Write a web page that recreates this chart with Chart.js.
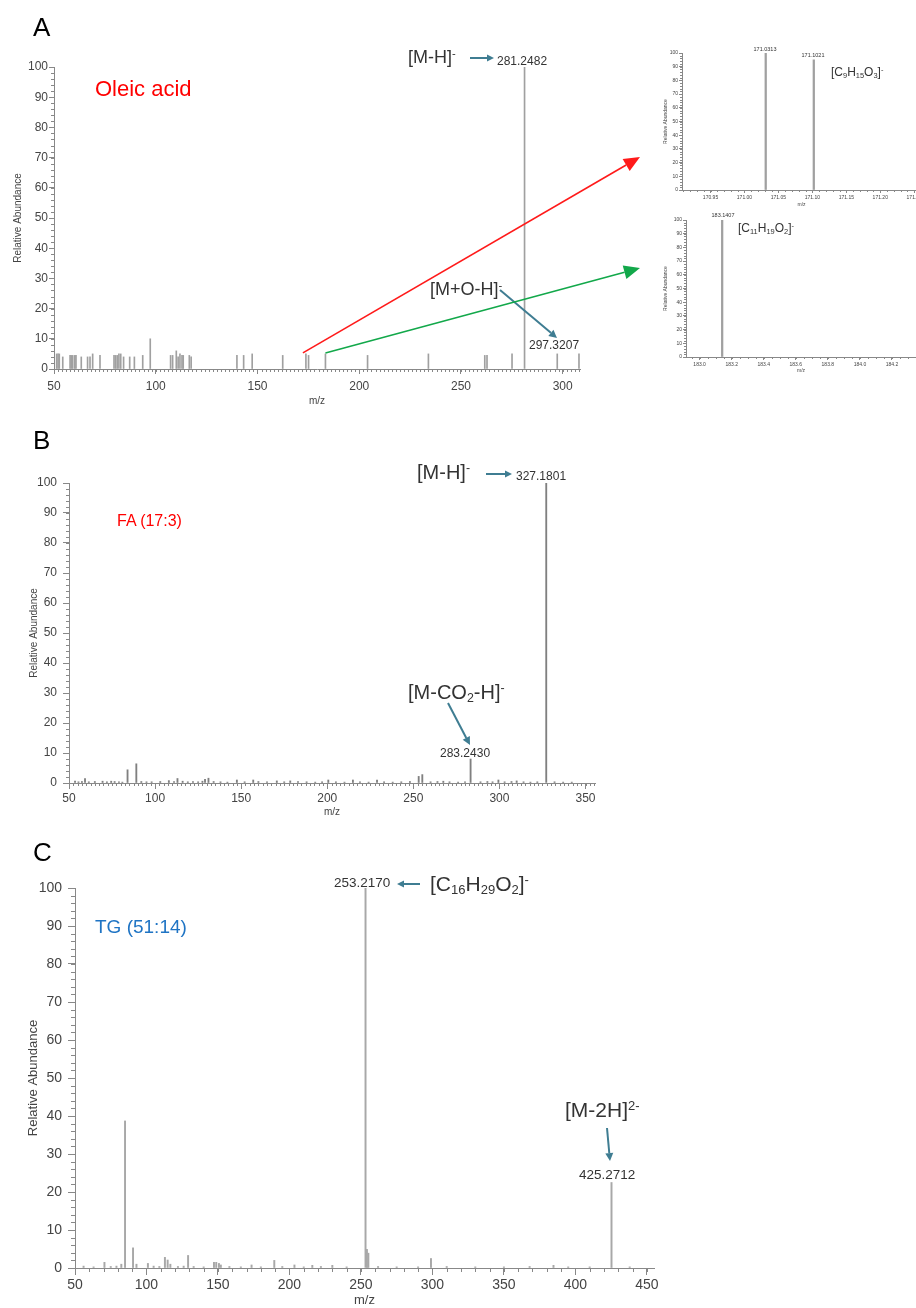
<!DOCTYPE html>
<html>
<head>
<meta charset="utf-8">
<script src="https://cdn.jsdelivr.net/npm/chart.js@4.4.1/dist/chart.umd.min.js"></script>
<style>
html, body { margin: 0; padding: 0; background: #fff; }
body { position: relative; width: 916px; height: 1308px; overflow: hidden; font-family: "Liberation Sans", Arial, sans-serif; }
.box { position: absolute; }
.lbl { position: absolute; white-space: nowrap; line-height: 1; color: #333; }
.c { transform: translateX(-50%); }
sub, sup { font-size: 0.62em; line-height: 0; }
sub { vertical-align: -0.25em; }
sup { vertical-align: 0.55em; }
#overlay { position: absolute; left: 0; top: 0; pointer-events: none; }
</style>
</head>
<body>

<div class="box" style="left:0;top:0;width:600px;height:410px"><canvas id="chartA"></canvas></div>
<div class="box" style="left:655px;top:40px;width:300px;height:170px"><canvas id="chartA1"></canvas></div>
<div class="box" style="left:655px;top:205px;width:300px;height:170px"><canvas id="chartA2"></canvas></div>
<div class="box" style="left:0;top:450px;width:620px;height:370px"><canvas id="chartB"></canvas></div>
<div class="box" style="left:0;top:860px;width:680px;height:448px"><canvas id="chartC"></canvas></div>

<!-- panel letters and labels -->
<div class="lbl" style="left:33px;top:14px;font-size:26px;color:#000">A</div>
<div class="lbl" style="left:33px;top:427px;font-size:26px;color:#000">B</div>
<div class="lbl" style="left:33px;top:839px;font-size:26px;color:#000">C</div>

<div class="lbl" style="left:95px;top:78px;font-size:22px;color:#ff0000">Oleic acid</div>
<div class="lbl" style="left:408px;top:48px;font-size:18px">[M-H]<sup>-</sup></div>
<div class="lbl" style="left:497px;top:55px;font-size:12px">281.2482</div>
<div class="lbl" style="left:430px;top:280px;font-size:18px">[M+O-H]<sup>-</sup></div>
<div class="lbl" style="left:529px;top:339px;font-size:12px">297.3207</div>

<div class="lbl c" style="left:765px;top:47px;font-size:5.5px">171.0313</div>
<div class="lbl c" style="left:813px;top:53px;font-size:5.5px">171.1021</div>
<div class="lbl" style="left:831px;top:66px;font-size:12px">[C<sub>9</sub>H<sub>15</sub>O<sub>3</sub>]<sup>-</sup></div>
<div class="lbl c" style="left:723px;top:213px;font-size:5.5px">183.1407</div>
<div class="lbl" style="left:738px;top:222px;font-size:12px">[C<sub>11</sub>H<sub>19</sub>O<sub>2</sub>]<sup>-</sup></div>

<div class="lbl" style="left:117px;top:513px;font-size:16px;color:#ff0000">FA (17:3)</div>
<div class="lbl" style="left:417px;top:462px;font-size:20px">[M-H]<sup>-</sup></div>
<div class="lbl" style="left:516px;top:470px;font-size:12px">327.1801</div>
<div class="lbl" style="left:408px;top:682px;font-size:20px">[M-CO<sub>2</sub>-H]<sup>-</sup></div>
<div class="lbl" style="left:440px;top:747px;font-size:12px">283.2430</div>

<div class="lbl" style="left:95px;top:917px;font-size:19px;color:#1f74c4">TG (51:14)</div>
<div class="lbl" style="left:334px;top:876px;font-size:13.5px">253.2170</div>
<div class="lbl" style="left:430px;top:873px;font-size:21px">[C<sub>16</sub>H<sub>29</sub>O<sub>2</sub>]<sup>-</sup></div>
<div class="lbl" style="left:565px;top:1099px;font-size:21px">[M-2H]<sup>2-</sup></div>
<div class="lbl" style="left:579px;top:1168px;font-size:13.5px">425.2712</div>

<canvas id="overlay" width="916" height="1308"></canvas>

<script>
// Panel A: oleic acid MS/MS (m/z, relative abundance)
const mzA = [51.3, 52.0, 52.6, 54.3, 57.9, 58.5, 59.2, 60.2, 60.8, 63.4, 66.5, 67.7, 69.0, 72.6,
    79.5, 80.3, 81.1, 81.9, 82.8, 84.2, 87.2, 89.5, 93.6, 97.3, 107.3, 108.3, 110.1, 111.0,
    111.9, 112.9, 113.5, 116.5, 117.4, 139.9, 143.2, 147.4, 162.4, 173.8, 175.1, 183.4,
    204.1, 234.0, 261.7, 262.8, 275.1, 281.2482, 297.3207, 308.0];
const abA = [5, 5, 5, 4, 4.5, 4.5, 4.5, 4.5, 4.5, 4, 4, 4, 5, 4.5,
    4.5, 4.5, 4.5, 5, 5, 4, 4, 4, 4.5, 10, 4.5, 4.5, 6, 4,
    5, 4.5, 4.5, 4.5, 4, 4.5, 4.5, 5, 4.5, 5, 4.5, 5,
    4.5, 5, 4.5, 4.5, 5, 100, 5, 5];

// Panel A insets (zoomed fragments)
const mzA1 = [171.0313, 171.1021];
const abA1 = [100, 95];
const mzA2 = [183.1407];
const abA2 = [100];

// Panel B: FA (17:3)
const mzB = [53.5, 55.5, 57.5, 59.3, 61.5, 65.0, 69.5, 72.0, 74.5, 76.5, 79.0, 81.0, 84.0, 89.1,
    92.0, 95.0, 98.0, 103.0, 108.0, 111.0, 113.0, 116.0, 119.0, 122.0, 125.0, 127.5, 129.0,
    131.0, 134.0, 138.0, 142.0, 147.5, 152.0, 157.0, 160.0, 165.0, 170.7, 175.0, 178.5,
    183.0, 188.0, 193.0, 197.0, 200.6, 205.0, 210.0, 214.9, 219.0, 224.0, 228.9, 233.0,
    238.0, 243.0, 248.0, 253.1, 255.2, 260.0, 264.0, 267.4, 271.0, 276.0, 280.0, 283.2430,
    289.0, 293.0, 296.0, 299.4, 303.0, 307.0, 310.0, 314.0, 318.0, 322.0, 327.1801, 332.0,
    337.0, 342.0];
const abB = [0.6, 0.4, 0.5, 1.5, 0.4, 0.5, 0.6, 0.4, 0.6, 0.5, 0.4, 0.3, 4.4, 6.4,
    0.5, 0.4, 0.4, 0.5, 0.8, 0.5, 1.5, 0.6, 0.4, 0.5, 0.4, 0.6, 1.2,
    1.6, 0.5, 0.4, 0.3, 1.0, 0.4, 1.0, 0.5, 0.4, 0.7, 0.4, 0.7,
    0.5, 0.4, 0.3, 0.4, 1.0, 0.4, 0.3, 1.0, 0.4, 0.3, 1.0, 0.4,
    0.3, 0.4, 0.5, 2.2, 2.8, 0.4, 0.5, 0.6, 0.4, 0.3, 0.4, 8.0,
    0.4, 0.5, 0.4, 1.0, 0.4, 0.5, 0.7, 0.4, 0.3, 0.4, 100, 0.4,
    0.3, 0.3];

// Panel C: TG (51:14)
const mzC = [56.0, 63.0, 70.6, 75.0, 79.0, 82.4, 85.0, 90.6, 93.0, 101.0, 105.0, 109.0, 112.9,
    114.8, 116.7, 122.0, 126.0, 129.1, 133.0, 140.0, 147.2, 148.8, 150.7, 152.0, 158.0, 166.0,
    173.5, 180.0, 189.4, 195.0, 203.5, 210.0, 216.0, 222.0, 230.0, 240.0, 253.2170, 254.2,
    255.2, 262.0, 275.0, 290.0, 299.0, 310.0, 330.0, 350.0, 368.0, 384.7, 395.0, 410.0,
    425.2712, 438.0];
const abC = [0.5, 0.3, 1.5, 0.4, 0.5, 1.0, 38.7, 5.3, 1.0, 1.2, 0.5, 0.4, 2.8,
    2.1, 1.0, 0.4, 0.5, 3.3, 0.4, 0.3, 1.5, 1.5, 1.2, 0.8, 0.4, 0.3,
    0.8, 0.3, 2.0, 0.4, 0.8, 0.3, 0.7, 0.4, 0.7, 0.3, 100, 4.9,
    3.9, 0.4, 0.3, 0.3, 2.5, 0.4, 0.3, 0.3, 0.4, 0.7, 0.3, 0.3,
    22.5, 0.3];

// short unlabeled ticks between the labeled ones
const minorTicks = {
    id: "minorTicks",
    afterDraw(chart, args, o) {
        const { ctx, chartArea: a, scales: { x, y } } = chart;
        ctx.save();
        ctx.strokeStyle = o.color;
        ctx.lineWidth = 1;
        ctx.beginPath();
        const n = Math.floor((x.max - x.min) / o.x);
        const start = Math.ceil(x.min / o.x - 1e-6);
        for (let i = 0; i <= n + 1; i++) {
            const v = (start + i) * o.x;
            if (v > x.max + 1e-9) break;
            const p = Math.round(x.getPixelForValue(v)) + 0.5;
            ctx.moveTo(p, a.bottom);
            ctx.lineTo(p, a.bottom + o.len);
        }
        for (let i = 0; i * o.y <= 100; i++) {
            const p = Math.round(y.getPixelForValue(i * o.y)) + 0.5;
            ctx.moveTo(a.left - o.len, p);
            ctx.lineTo(a.left, p);
        }
        ctx.stroke();
        ctx.restore();
    }
};

function spectrum(id, mz, ab, o) {
    const axisColor = o.axisColor || "#888";
    return new Chart(document.getElementById(id), {
        type: "bar",
        data: {
            datasets: [{
                data: mz.map((m, i) => ({ x: m, y: ab[i] })),
                backgroundColor: o.barColor,
                barThickness: o.barWidth,
                grouped: false
            }]
        },
        options: {
            responsive: true,
            maintainAspectRatio: false,
            animation: false,
            layout: { padding: o.pad },
            plugins: {
                legend: { display: false },
                tooltip: { enabled: false },
                minorTicks: { x: o.minorX, y: o.minorY, len: o.minorLen, color: axisColor }
            },
            scales: {
                x: {
                    type: "linear",
                    min: o.xMin,
                    max: o.xMax,
                    offset: false,
                    border: { color: axisColor },
                    grid: { drawOnChartArea: false, offset: false, color: axisColor, tickLength: o.tickLen },
                    ticks: {
                        stepSize: o.xStep,
                        autoSkip: false,
                        includeBounds: false,
                        maxRotation: 0,
                        padding: o.xPad,
                        color: "#444",
                        font: { size: o.tickFont, family: "Liberation Sans" },
                        callback: v => v.toFixed(o.xDec)
                    },
                    title: {
                        display: true, text: "m/z", color: "#444",
                        font: { size: o.titleFont, family: "Liberation Sans" },
                        padding: { top: 0, bottom: o.titlePad }
                    },
                    afterFit: s => { s.height = o.xH; }
                },
                y: {
                    min: 0,
                    max: 100,
                    border: { color: axisColor },
                    grid: { drawOnChartArea: false, color: axisColor, tickLength: o.tickLen },
                    ticks: {
                        stepSize: 10,
                        padding: o.yPad,
                        color: "#444",
                        font: { size: o.tickFont, family: "Liberation Sans" }
                    },
                    title: {
                        display: true, text: "Relative Abundance", color: "#444",
                        font: { size: o.titleFont, family: "Liberation Sans" },
                        padding: { top: 4, bottom: 0 }
                    },
                    afterFit: s => { s.width = o.yW; }
                }
            }
        },
        plugins: [minorTicks]
    });
}

const chartA = spectrum("chartA", mzA, abA, {
    xMin: 50, xMax: 308.5, xStep: 50, xDec: 0,
    pad: { left: 8, top: 67, right: 20, bottom: 0 }, yW: 46, xH: 41,
    barColor: "#a0a0a0", barWidth: 1, tickFont: 12, titleFont: 10,
    tickLen: 5, xPad: 5, yPad: 1, titlePad: 3, minorX: 2, minorY: 2, minorLen: 3
});

spectrum("chartA1", mzA1, abA1, {
    xMin: 170.908, xMax: 171.26, xStep: 0.05, xDec: 2,
    pad: { left: 4, top: 13, right: 34, bottom: 0 }, yW: 23, xH: 20,
    barColor: "#a0a0a0", barWidth: 1.6, tickFont: 5, titleFont: 5,
    tickLen: 3, xPad: 2, yPad: 1, titlePad: 2, minorX: 0.01, minorY: 2, minorLen: 2
});

spectrum("chartA2", mzA2, abA2, {
    xMin: 182.915, xMax: 184.35, xStep: 0.2, xDec: 1,
    pad: { left: 4, top: 15, right: 39, bottom: 0 }, yW: 27, xH: 18,
    barColor: "#a0a0a0", barWidth: 1.6, tickFont: 5, titleFont: 5,
    tickLen: 3, xPad: 2, yPad: 1, titlePad: 1, minorX: 0.05, minorY: 2, minorLen: 2
});

spectrum("chartB", mzB, abB, {
    xMin: 50, xMax: 355.5, xStep: 50, xDec: 0,
    pad: { left: 24, top: 33, right: 25, bottom: 0 }, yW: 45, xH: 37,
    barColor: "#808080", barWidth: 1.2, tickFont: 12, titleFont: 10,
    tickLen: 6, xPad: 2, yPad: 6, titlePad: 2, minorX: 2.5, minorY: 2, minorLen: 3
});

spectrum("chartC", mzC, abC, {
    xMin: 50, xMax: 455, xStep: 50, xDec: 0,
    pad: { left: 22, top: 28, right: 26, bottom: 0 }, yW: 53, xH: 40,
    barColor: "#a8a8a8", barWidth: 1.3, tickFont: 14, titleFont: 13,
    tickLen: 7, xPad: 2, yPad: 6, titlePad: 0, minorX: 10, minorY: 2, minorLen: 4
});

// annotation arrows
const ov = document.getElementById("overlay").getContext("2d");
function arrow(x1, y1, x2, y2, color, width, head, headW) {
    const ang = Math.atan2(y2 - y1, x2 - x1);
    const bx = x2 - head * Math.cos(ang), by = y2 - head * Math.sin(ang);
    ov.strokeStyle = color;
    ov.fillStyle = color;
    ov.lineWidth = width;
    ov.beginPath();
    ov.moveTo(x1, y1);
    ov.lineTo(bx, by);
    ov.stroke();
    ov.beginPath();
    ov.moveTo(x2, y2);
    ov.lineTo(bx + headW * Math.sin(ang), by - headW * Math.cos(ang));
    ov.lineTo(bx - headW * Math.sin(ang), by + headW * Math.cos(ang));
    ov.closePath();
    ov.fill();
}
const steel = "#3f7d92";
arrow(470, 58, 494, 58, steel, 2, 7, 3.5);
arrow(500, 290, 557, 338, steel, 2, 8, 4);
arrow(486, 474, 512, 474, steel, 2, 7, 3.5);
arrow(448, 703, 470, 745, steel, 2, 8, 4);
arrow(420, 884, 397, 884, steel, 2, 7, 3.5);
arrow(607, 1128, 610, 1161, steel, 2, 8, 4);

// zoom arrows start at the fragment peaks of panel A
const sx = chartA.scales.x, sy = chartA.scales.y;
const iRed = mzA.indexOf(173.8), iGreen = mzA.indexOf(183.4);
arrow(sx.getPixelForValue(mzA[iRed]) - 3, sy.getPixelForValue(abA[iRed]) - 1, 640, 157, "#ff1a1a", 1.6, 16, 7);
arrow(sx.getPixelForValue(mzA[iGreen]), sy.getPixelForValue(abA[iGreen]) - 1, 640, 268, "#12a84a", 1.6, 16, 7);
</script>
</body>
</html>
